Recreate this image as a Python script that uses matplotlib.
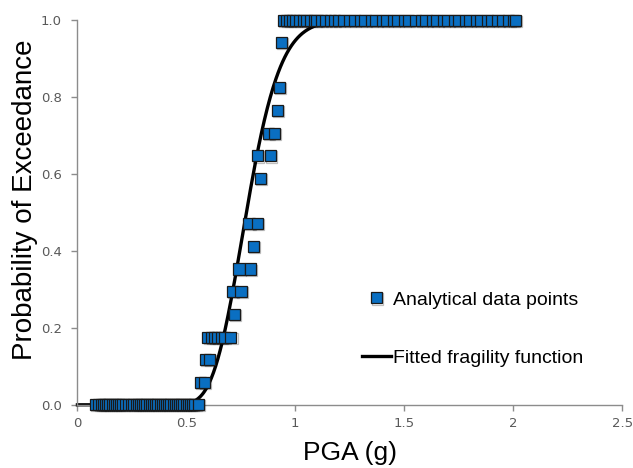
import math
import numpy as np
import matplotlib
matplotlib.use("Agg")
import matplotlib.pyplot as plt
import matplotlib.patheffects as pe

# analytical points: PGA (g) and fraction of records exceeding the limit state
pga_zero = [0.085, 0.10, 0.11, 0.12, 0.13, 0.14, 0.15, 0.16, 0.17, 0.18, 0.19,
            0.20, 0.21, 0.22, 0.235, 0.25, 0.26, 0.27, 0.28, 0.29, 0.30, 0.31,
            0.32, 0.33, 0.34, 0.35, 0.36, 0.37, 0.38, 0.39, 0.40, 0.41, 0.42,
            0.43, 0.44, 0.45, 0.46, 0.47, 0.48, 0.49, 0.50, 0.51, 0.52, 0.53,
            0.54, 0.556]
pga_mid = [0.565, 0.582, 0.59, 0.608, 0.60, 0.615, 0.63, 0.645, 0.66, 0.675,
           0.705, 0.72, 0.713, 0.751, 0.742, 0.793, 0.808, 0.788, 0.828, 0.840,
           0.828, 0.886, 0.877, 0.905, 0.917, 0.928, 0.935]
pf_mid = [0.059, 0.059, 0.118, 0.118, 0.176, 0.176, 0.176, 0.176, 0.176, 0.176,
          0.176, 0.235, 0.294, 0.294, 0.353, 0.353, 0.412, 0.471, 0.471, 0.588,
          0.647, 0.647, 0.706, 0.706, 0.765, 0.824, 0.941]
pga_one = [0.945, 0.96, 0.975, 0.99, 1.0, 1.02, 1.04, 1.05, 1.07, 1.09, 1.1,
           1.12, 1.14, 1.16, 1.18, 1.2, 1.22, 1.25, 1.27, 1.3, 1.32, 1.35, 1.37,
           1.4, 1.42, 1.45, 1.47, 1.5, 1.52, 1.55, 1.58, 1.6, 1.63, 1.65, 1.68,
           1.7, 1.73, 1.75, 1.78, 1.8, 1.83, 1.85, 1.88, 1.9, 1.93, 1.95, 1.98,
           2.0, 2.01]

# lognormal fragility fit
theta = 0.776   # median (g)
beta = 0.157    # log standard deviation

pga = np.array(pga_zero + pga_mid + pga_one)
pf = np.array([0.0] * len(pga_zero) + pf_mid + [1.0] * len(pga_one))

x_fit = np.linspace(0.001, 2.0, 600)
y_fit = np.array([0.5 * (1 + math.erf(math.log(v / theta) / (beta * math.sqrt(2))))
                  for v in x_fit])

fig = plt.figure(figsize=(6.33, 4.68), dpi=100)
ax = fig.add_axes([0.122, 0.135, 0.861, 0.822])

ax.plot(x_fit, y_fit, color="black", lw=2.4, zorder=2,
        label="Fitted fragility function")
ax.plot(pga, pf, ls="none", marker="s", ms=8, mfc="#0a6fc2", mec="#1a1a1a",
        mew=0.9, zorder=3, label="Analytical data points",
        path_effects=[pe.SimpleLineShadow(offset=(0.8, -0.8), alpha=0.25,
                                          shadow_color="black"), pe.Normal()])

ax.set_xlim(0, 2.5)
ax.set_ylim(0, 1.0)
ax.set_xticks([0, 0.5, 1, 1.5, 2, 2.5])
ax.set_xticklabels(["0", "0.5", "1", "1.5", "2", "2.5"])
ax.set_yticks([0, 0.2, 0.4, 0.6, 0.8, 1.0])
ax.set_yticklabels(["0.0", "0.2", "0.4", "0.6", "0.8", "1.0"])

for side in ["top", "right"]:
    ax.spines[side].set_visible(False)
for side in ["left", "bottom"]:
    ax.spines[side].set_color("#8c8c8c")
    ax.spines[side].set_linewidth(1.0)
ax.tick_params(colors="#8c8c8c", length=4, width=1.0, labelcolor="#595959",
               labelsize=9.5)
ax.tick_params(axis="y", pad=7)
ax.tick_params(axis="x", pad=5)

lab_font = ["Liberation Sans", "DejaVu Sans"]
ax.set_ylabel("Probability of Exceedance", fontsize=20, family=lab_font,
              color="black")
ax.yaxis.set_label_coords(-0.072, 0.532)
ax.set_xlabel("PGA (g)", fontsize=19, family=lab_font, color="black",
              labelpad=8)

handles, labels = ax.get_legend_handles_labels()
leg = ax.legend(handles[::-1], labels[::-1], loc="upper left",
                bbox_to_anchor=(0.49, 0.341), frameon=False, labelspacing=2.1,
                handlelength=1.5, handletextpad=0.1,
                prop={"family": ["Liberation Sans", "DejaVu Sans"], "size": 14})

for line in ax.lines:
    line.set_clip_on(False)

fig.savefig("out.png", dpi=100)
